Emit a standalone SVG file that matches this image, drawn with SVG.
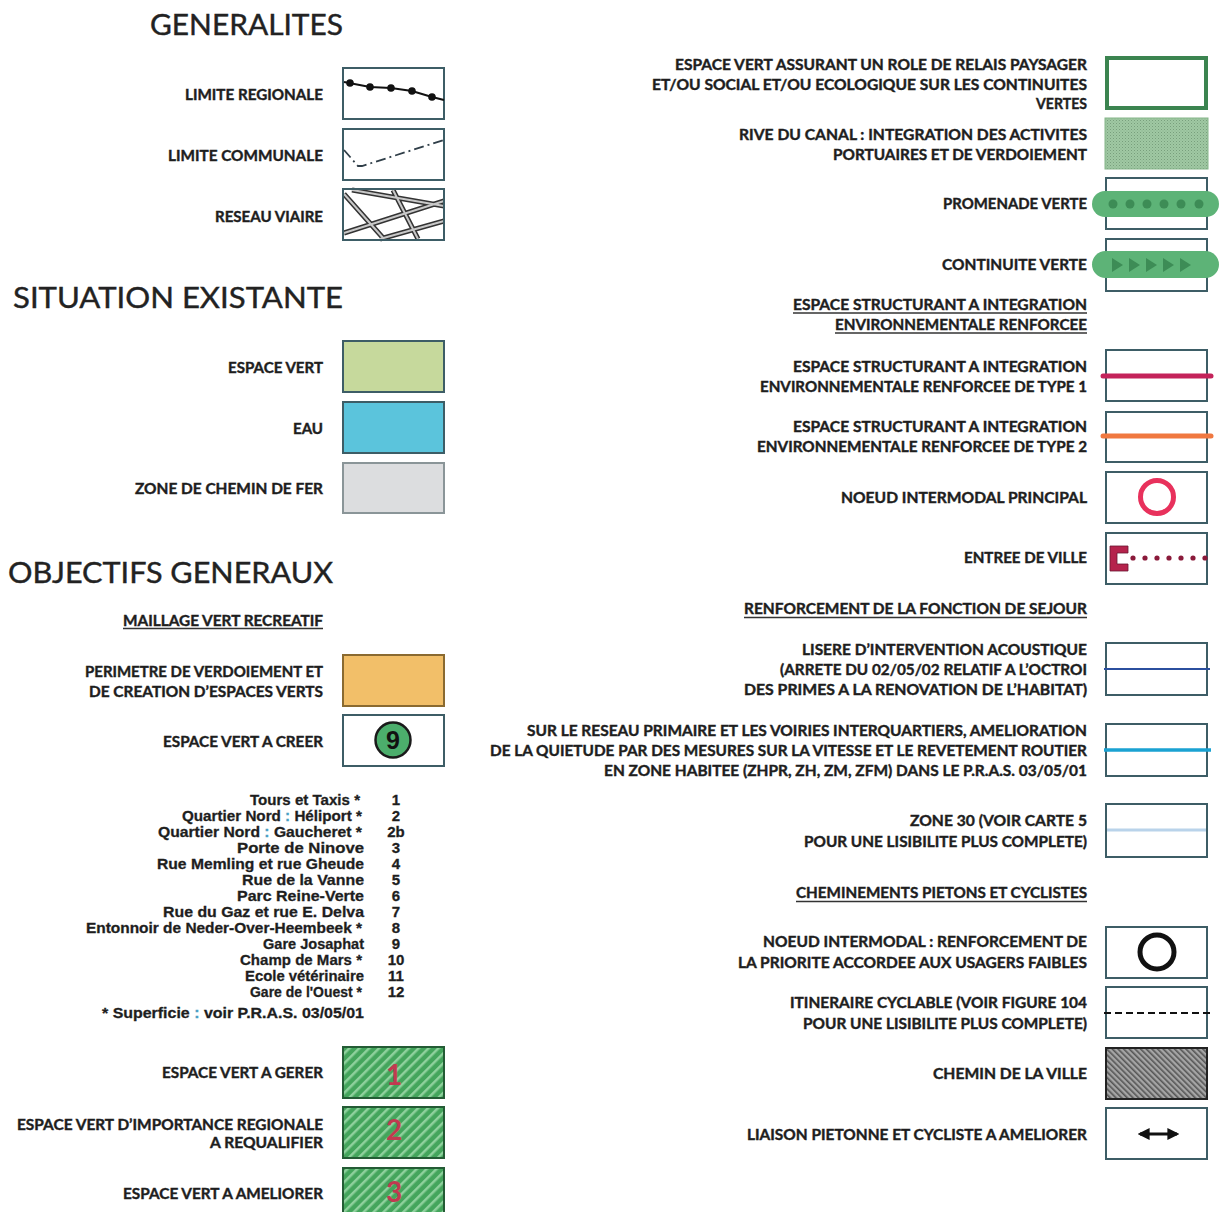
<svg xmlns="http://www.w3.org/2000/svg" width="1220" height="1212" viewBox="0 0 1220 1212">
<style>
.hd{font-family:Lato,"Liberation Sans",sans-serif;font-weight:400;font-size:29px;fill:#222;stroke:#222;stroke-width:0.4}
.lb{font-family:Lato,"Liberation Sans",sans-serif;font-weight:700;font-size:15px;fill:#1e1e1e;stroke:#1e1e1e;stroke-width:0.4;text-anchor:end}
.ls{font-family:"Liberation Sans",Arial,sans-serif;font-weight:700;font-size:15px;fill:#1e1e1e;stroke:#1e1e1e;stroke-width:0.3;text-anchor:end}
.num{font-family:"Liberation Sans",Arial,sans-serif;font-weight:700;font-size:15px;fill:#1e1e1e;stroke:#1e1e1e;stroke-width:0.3;text-anchor:middle}
.box{fill:#fff;stroke:#3d5d66;stroke-width:2}
.ul{stroke:#333;stroke-width:1.3}
.rn{font-family:Lato,"Liberation Sans",sans-serif;font-weight:700;font-size:28px;fill:#c03a50;text-anchor:middle}
.road{fill:none;stroke:#333;stroke-width:5}
.roadin{fill:none;stroke:#c8c8c8;stroke-width:2}
.col{fill:#4a9fc4;stroke:#4a9fc4}
</style>
<defs>
<pattern id="ghatch" width="7" height="7" patternUnits="userSpaceOnUse" patternTransform="rotate(45)">
<rect width="7" height="7" fill="#44a55c"/>
<rect width="2.5" height="7" fill="#8fd19d"/>
</pattern>
<pattern id="rive" width="3" height="3" patternUnits="userSpaceOnUse">
<rect width="3" height="3" fill="#a0c8a3"/>
<rect width="1" height="1" fill="#779f7c"/>
<rect x="1.5" y="1.5" width="1" height="1" fill="#86b08a"/>
</pattern>
<pattern id="chemin" width="4" height="4" patternUnits="userSpaceOnUse" patternTransform="rotate(-45)">
<rect width="4" height="4" fill="#a5a5a5"/>
<rect width="1.6" height="4" fill="#555"/>
</pattern>
<marker id="ah" viewBox="0 0 10 10" refX="8" refY="5" markerWidth="4" markerHeight="4" orient="auto-start-reverse" markerUnits="strokeWidth">
<path d="M0,0 L10,5 L0,10 Z" fill="#111"/>
</marker>
</defs>

<g id="headings">
<text class="hd" x="150" y="35" textLength="193" lengthAdjust="spacingAndGlyphs" style="font-size:28px">GENERALITES</text>
<text class="hd" x="13" y="308" textLength="330" lengthAdjust="spacingAndGlyphs">SITUATION EXISTANTE</text>
<text class="hd" x="8" y="583" textLength="325" lengthAdjust="spacingAndGlyphs">OBJECTIFS GENERAUX</text>
</g>

<g id="limite-regionale">
<text class="lb" x="323" y="100" textLength="138" lengthAdjust="spacingAndGlyphs">LIMITE REGIONALE</text>
<rect class="box" x="343" y="68" width="101" height="51"/>
<polyline points="344,82 370,87 391,88 412,91 432,97 444,100" fill="none" stroke="#111" stroke-width="2"/>
<g fill="#111"><circle cx="350" cy="83" r="3.8"/><circle cx="370" cy="87" r="3.8"/><circle cx="391" cy="88" r="3.8"/><circle cx="412" cy="91" r="3.8"/><circle cx="432" cy="97" r="3.8"/></g>
</g>
<g id="limite-communale">
<text class="lb" x="323" y="161" textLength="155" lengthAdjust="spacingAndGlyphs">LIMITE COMMUNALE</text>
<rect class="box" x="343" y="129" width="101" height="51"/>
<polyline points="344,150 358,166 362,166 444,140" fill="none" stroke="#2f3e48" stroke-width="1.8" stroke-dasharray="10 4 2 4"/>
</g>
<g id="reseau-viaire">
<text class="lb" x="323" y="222" textLength="108" lengthAdjust="spacingAndGlyphs">RESEAU VIAIRE</text>
<rect class="box" x="343" y="189" width="101" height="51"/>
<path class="road" d="M344,194 L384,239 M393,190 L418,239 M344,233 L444,201 M380,239 L444,221 M352,190 L444,206"/>
<path class="roadin" d="M344,194 L384,239 M393,190 L418,239 M344,233 L444,201 M380,239 L444,221 M352,190 L444,206"/>
<rect x="343" y="189" width="101" height="51" fill="none" stroke="#3d5d66" stroke-width="2"/>
</g>

<g id="espace-vert">
<text class="lb" x="323" y="373" textLength="95" lengthAdjust="spacingAndGlyphs">ESPACE VERT</text>
<rect class="box" x="343" y="341" width="101" height="51" style="fill:#c6d99c"/>
</g>
<g id="eau">
<text class="lb" x="323" y="434" textLength="30" lengthAdjust="spacingAndGlyphs">EAU</text>
<rect class="box" x="343" y="402" width="101" height="51" style="fill:#5bc4dc"/>
</g>
<g id="chemin-de-fer">
<text class="lb" x="323" y="494" textLength="188" lengthAdjust="spacingAndGlyphs">ZONE DE CHEMIN DE FER</text>
<rect class="box" x="343" y="463" width="101" height="50" style="fill:#dcdddf;stroke:#8a9598"/>
</g>

<g id="maillage">
<text class="lb" x="323" y="626" textLength="200" lengthAdjust="spacingAndGlyphs">MAILLAGE VERT RECREATIF</text>
<line class="ul" x1="123" y1="628.5" x2="323" y2="628.5"/>
</g>
<g id="perimetre">
<text class="lb" x="323" y="677" textLength="238" lengthAdjust="spacingAndGlyphs">PERIMETRE DE VERDOIEMENT ET</text>
<text class="lb" x="323" y="697" textLength="234" lengthAdjust="spacingAndGlyphs">DE CREATION D’ESPACES VERTS</text>
<rect class="box" x="343" y="655" width="101" height="51" style="fill:#f2bf69;stroke:#8a6a30"/>
</g>
<g id="espace-vert-a-creer">
<text class="lb" x="323" y="747" textLength="160" lengthAdjust="spacingAndGlyphs">ESPACE VERT A CREER</text>
<rect class="box" x="343" y="715" width="101" height="51"/>
<circle cx="393" cy="740" r="17.5" fill="#4cae6c" stroke="#1a1a1a" stroke-width="2.5"/>
<text x="393" y="749" text-anchor="middle" style="font-family:'Liberation Sans',sans-serif;font-weight:700;font-size:25px;fill:#111">9</text>
</g>

<g id="liste">
<text class="ls" x="360" y="805" textLength="110" lengthAdjust="spacingAndGlyphs">Tours et Taxis *</text>
<text class="ls" x="362" y="821" textLength="180" lengthAdjust="spacingAndGlyphs">Quartier Nord <tspan class="col">:</tspan> Héliport *</text>
<text class="ls" x="362" y="837" textLength="204" lengthAdjust="spacingAndGlyphs">Quartier Nord <tspan class="col">:</tspan> Gaucheret *</text>
<text class="ls" x="364" y="853" textLength="127" lengthAdjust="spacingAndGlyphs">Porte de Ninove</text>
<text class="ls" x="364" y="869" textLength="207" lengthAdjust="spacingAndGlyphs">Rue Memling et rue Gheude</text>
<text class="ls" x="364" y="885" textLength="122" lengthAdjust="spacingAndGlyphs">Rue de la Vanne</text>
<text class="ls" x="364" y="901" textLength="127" lengthAdjust="spacingAndGlyphs">Parc Reine-Verte</text>
<text class="ls" x="364" y="917" textLength="201" lengthAdjust="spacingAndGlyphs">Rue du Gaz et rue E. Delva</text>
<text class="ls" x="362" y="933" textLength="276" lengthAdjust="spacingAndGlyphs">Entonnoir de Neder-Over-Heembeek *</text>
<text class="ls" x="364" y="949" textLength="101" lengthAdjust="spacingAndGlyphs">Gare Josaphat</text>
<text class="ls" x="362" y="965" textLength="122" lengthAdjust="spacingAndGlyphs">Champ de Mars *</text>
<text class="ls" x="364" y="981" textLength="119" lengthAdjust="spacingAndGlyphs">Ecole vétérinaire</text>
<text class="ls" x="362" y="997" textLength="112" lengthAdjust="spacingAndGlyphs">Gare de l'Ouest *</text>
<text class="ls" x="364" y="1018" textLength="262" lengthAdjust="spacingAndGlyphs">* Superficie <tspan class="col">:</tspan> voir P.R.A.S. 03/05/01</text>
<text class="num" x="396" y="805">1</text>
<text class="num" x="396" y="821">2</text>
<text class="num" x="396" y="837">2b</text>
<text class="num" x="396" y="853">3</text>
<text class="num" x="396" y="869">4</text>
<text class="num" x="396" y="885">5</text>
<text class="num" x="396" y="901">6</text>
<text class="num" x="396" y="917">7</text>
<text class="num" x="396" y="933">8</text>
<text class="num" x="396" y="949">9</text>
<text class="num" x="396" y="965">10</text>
<text class="num" x="396" y="981">11</text>
<text class="num" x="396" y="997">12</text>
</g>

<g id="espace-vert-a-gerer">
<text class="lb" x="323" y="1078" textLength="161" lengthAdjust="spacingAndGlyphs">ESPACE VERT A GERER</text>
<rect x="343" y="1047" width="101" height="51" fill="url(#ghatch)" stroke="#245c35" stroke-width="2"/>
<text class="rn" x="394" y="1085">1</text>
</g>
<g id="espace-vert-a-requalifier">
<text class="lb" x="323" y="1130" textLength="306" lengthAdjust="spacingAndGlyphs">ESPACE VERT D’IMPORTANCE REGIONALE</text>
<text class="lb" x="323" y="1148" textLength="113" lengthAdjust="spacingAndGlyphs">A REQUALIFIER</text>
<rect x="343" y="1107" width="101" height="51" fill="url(#ghatch)" stroke="#245c35" stroke-width="2"/>
<text class="rn" x="394" y="1140">2</text>
</g>
<g id="espace-vert-a-ameliorer">
<text class="lb" x="323" y="1199" textLength="200" lengthAdjust="spacingAndGlyphs">ESPACE VERT A AMELIORER</text>
<rect x="343" y="1168" width="101" height="60" fill="url(#ghatch)" stroke="#245c35" stroke-width="2"/>
<text class="rn" x="394" y="1202">3</text>
</g>

<g id="relais">
<text class="lb" x="1087" y="70" textLength="412" lengthAdjust="spacingAndGlyphs">ESPACE VERT ASSURANT UN ROLE DE RELAIS PAYSAGER</text>
<text class="lb" x="1087" y="90" textLength="435" lengthAdjust="spacingAndGlyphs">ET/OU SOCIAL ET/OU ECOLOGIQUE SUR LES CONTINUITES</text>
<text class="lb" x="1087" y="109" textLength="51" lengthAdjust="spacingAndGlyphs">VERTES</text>
<rect x="1107" y="58" width="99" height="50" fill="#fff" stroke="#3b8450" stroke-width="4"/>
</g>
<g id="rive-du-canal">
<text class="lb" x="1087" y="140" textLength="348" lengthAdjust="spacingAndGlyphs">RIVE DU CANAL : INTEGRATION DES ACTIVITES</text>
<text class="lb" x="1087" y="160" textLength="254" lengthAdjust="spacingAndGlyphs">PORTUAIRES ET DE VERDOIEMENT</text>
<rect x="1105" y="118" width="103" height="51" fill="url(#rive)" stroke="#86b58a" stroke-width="1"/>
</g>
<g id="promenade-verte">
<text class="lb" x="1087" y="209" textLength="144" lengthAdjust="spacingAndGlyphs">PROMENADE VERTE</text>
<rect class="box" x="1106" y="178" width="101" height="51"/>
<rect x="1092" y="191" width="127" height="26" rx="13" fill="#5db377"/>
<g fill="#3d8c56"><circle cx="1113" cy="204" r="4.5"/><circle cx="1130" cy="204" r="4.5"/><circle cx="1147" cy="204" r="4.5"/><circle cx="1164" cy="204" r="4.5"/><circle cx="1181" cy="204" r="4.5"/><circle cx="1199" cy="204" r="4.5"/></g>
</g>
<g id="continuite-verte">
<text class="lb" x="1087" y="270" textLength="145" lengthAdjust="spacingAndGlyphs">CONTINUITE VERTE</text>
<rect class="box" x="1106" y="239" width="101" height="52"/>
<rect x="1092" y="251" width="127" height="27" rx="13.5" fill="#5db377"/>
<g fill="#3d8c56"><path d="M1112,258 L1123,265 L1112,272 Z"/><path d="M1129,258 L1140,265 L1129,272 Z"/><path d="M1146,258 L1157,265 L1146,272 Z"/><path d="M1163,258 L1174,265 L1163,272 Z"/><path d="M1180,258 L1191,265 L1180,272 Z"/></g>
</g>

<g id="espace-structurant">
<text class="lb" x="1087" y="310" textLength="294" lengthAdjust="spacingAndGlyphs">ESPACE STRUCTURANT A INTEGRATION</text>
<line class="ul" x1="793" y1="313" x2="1087" y2="313"/>
<text class="lb" x="1087" y="330" textLength="252" lengthAdjust="spacingAndGlyphs">ENVIRONNEMENTALE RENFORCEE</text>
<line class="ul" x1="835" y1="333" x2="1087" y2="333"/>
</g>
<g id="type1">
<text class="lb" x="1087" y="372" textLength="294" lengthAdjust="spacingAndGlyphs">ESPACE STRUCTURANT A INTEGRATION</text>
<text class="lb" x="1087" y="392" textLength="327" lengthAdjust="spacingAndGlyphs">ENVIRONNEMENTALE RENFORCEE DE TYPE 1</text>
<rect class="box" x="1106" y="350" width="101" height="51"/>
<line x1="1103" y1="376" x2="1211" y2="376" stroke="#c4235a" stroke-width="5" stroke-linecap="round"/>
</g>
<g id="type2">
<text class="lb" x="1087" y="432" textLength="294" lengthAdjust="spacingAndGlyphs">ESPACE STRUCTURANT A INTEGRATION</text>
<text class="lb" x="1087" y="452" textLength="330" lengthAdjust="spacingAndGlyphs">ENVIRONNEMENTALE RENFORCEE DE TYPE 2</text>
<rect class="box" x="1106" y="412" width="101" height="50"/>
<line x1="1103" y1="436" x2="1211" y2="436" stroke="#f07840" stroke-width="5" stroke-linecap="round"/>
</g>
<g id="noeud-principal">
<text class="lb" x="1087" y="503" textLength="246" lengthAdjust="spacingAndGlyphs">NOEUD INTERMODAL PRINCIPAL</text>
<rect class="box" x="1106" y="472" width="101" height="51"/>
<circle cx="1157" cy="497" r="16.5" fill="none" stroke="#e8315c" stroke-width="5"/>
</g>
<g id="entree-de-ville">
<text class="lb" x="1087" y="563" textLength="123" lengthAdjust="spacingAndGlyphs">ENTREE DE VILLE</text>
<rect class="box" x="1106" y="533" width="101" height="51"/>
<path d="M1110,546 H1128 V553 H1117 V564 H1128 V571 H1110 Z" fill="#b5234c" stroke="#6a1530" stroke-width="0.8"/>
<g fill="#8a1a3a"><circle cx="1133" cy="558" r="2.6"/><circle cx="1145" cy="558" r="2.6"/><circle cx="1157" cy="558" r="2.6"/><circle cx="1169" cy="558" r="2.6"/><circle cx="1181" cy="558" r="2.6"/><circle cx="1193" cy="558" r="2.6"/><circle cx="1205" cy="558" r="2.6"/></g>
</g>

<g id="sejour">
<text class="lb" x="1087" y="614" textLength="343" lengthAdjust="spacingAndGlyphs">RENFORCEMENT DE LA FONCTION DE SEJOUR</text>
<line class="ul" x1="744" y1="617.5" x2="1087" y2="617.5"/>
</g>
<g id="lisere">
<text class="lb" x="1087" y="655" textLength="285" lengthAdjust="spacingAndGlyphs">LISERE D’INTERVENTION ACOUSTIQUE</text>
<text class="lb" x="1087" y="675" textLength="307" lengthAdjust="spacingAndGlyphs">(ARRETE DU 02/05/02 RELATIF A L’OCTROI</text>
<text class="lb" x="1087" y="695" textLength="343" lengthAdjust="spacingAndGlyphs">DES PRIMES A LA RENOVATION DE L’HABITAT)</text>
<rect class="box" x="1106" y="643" width="101" height="52"/>
<line x1="1104" y1="669" x2="1210" y2="669" stroke="#2b4f9e" stroke-width="2"/>
</g>
<g id="quietude">
<text class="lb" x="1087" y="736" textLength="560" lengthAdjust="spacingAndGlyphs">SUR LE RESEAU PRIMAIRE ET LES VOIRIES INTERQUARTIERS, AMELIORATION</text>
<text class="lb" x="1087" y="756" textLength="597" lengthAdjust="spacingAndGlyphs">DE LA QUIETUDE PAR DES MESURES SUR LA VITESSE ET LE REVETEMENT ROUTIER</text>
<text class="lb" x="1087" y="776" textLength="483" lengthAdjust="spacingAndGlyphs">EN ZONE HABITEE (ZHPR, ZH, ZM, ZFM) DANS LE P.R.A.S. 03/05/01</text>
<rect class="box" x="1106" y="724" width="101" height="52"/>
<line x1="1104" y1="750" x2="1211" y2="750" stroke="#1aa2d2" stroke-width="3.5"/>
</g>
<g id="zone30">
<text class="lb" x="1087" y="826" textLength="177" lengthAdjust="spacingAndGlyphs">ZONE 30 (VOIR CARTE 5</text>
<text class="lb" x="1087" y="847" textLength="283" lengthAdjust="spacingAndGlyphs">POUR UNE LISIBILITE PLUS COMPLETE)</text>
<rect class="box" x="1106" y="804" width="101" height="53"/>
<line x1="1107" y1="830" x2="1206" y2="830" stroke="#b9d3ea" stroke-width="3"/>
</g>

<g id="cheminements">
<text class="lb" x="1087" y="898" textLength="291" lengthAdjust="spacingAndGlyphs">CHEMINEMENTS PIETONS ET CYCLISTES</text>
<line class="ul" x1="796" y1="901.5" x2="1087" y2="901.5"/>
</g>
<g id="noeud-usagers">
<text class="lb" x="1087" y="947" textLength="324" lengthAdjust="spacingAndGlyphs">NOEUD INTERMODAL : RENFORCEMENT DE</text>
<text class="lb" x="1087" y="968" textLength="349" lengthAdjust="spacingAndGlyphs">LA PRIORITE ACCORDEE AUX USAGERS FAIBLES</text>
<rect class="box" x="1106" y="927" width="101" height="51"/>
<circle cx="1157" cy="952" r="17" fill="none" stroke="#111" stroke-width="5"/>
</g>
<g id="itineraire">
<text class="lb" x="1087" y="1008" textLength="297" lengthAdjust="spacingAndGlyphs">ITINERAIRE CYCLABLE (VOIR FIGURE 104</text>
<text class="lb" x="1087" y="1029" textLength="284" lengthAdjust="spacingAndGlyphs">POUR UNE LISIBILITE PLUS COMPLETE)</text>
<rect class="box" x="1106" y="987" width="101" height="51"/>
<line x1="1104" y1="1013" x2="1212" y2="1013" stroke="#111" stroke-width="1.8" stroke-dasharray="7 4"/>
</g>
<g id="chemin-de-la-ville">
<text class="lb" x="1087" y="1079" textLength="154" lengthAdjust="spacingAndGlyphs">CHEMIN DE LA VILLE</text>
<rect x="1106" y="1048" width="101" height="51" fill="url(#chemin)" stroke="#222" stroke-width="2"/>
</g>
<g id="liaison">
<text class="lb" x="1087" y="1140" textLength="340" lengthAdjust="spacingAndGlyphs">LIAISON PIETONNE ET CYCLISTE A AMELIORER</text>
<rect class="box" x="1106" y="1108" width="101" height="51"/>
</g>

<g id="connectors">
<line x1="1140" y1="1134" x2="1177" y2="1134" stroke="#111" stroke-width="3" marker-start="url(#ah)" marker-end="url(#ah)"/>
</g>
</svg>
